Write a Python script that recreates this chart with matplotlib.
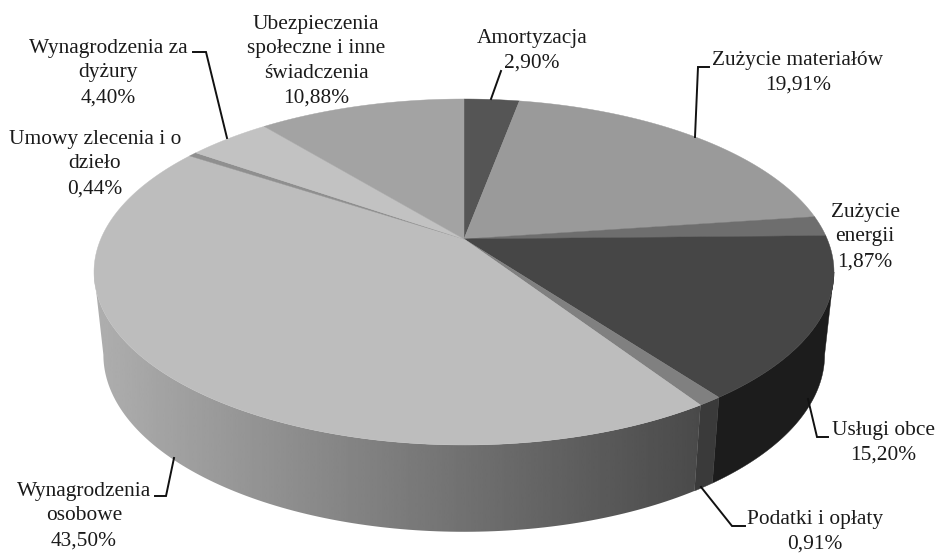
"""3D style pie of cost shares, greyscale, labels in Polish."""
import numpy as np
import matplotlib
matplotlib.use("Agg")
import matplotlib.pyplot as plt
from matplotlib.patches import Polygon

LABELS = ["Amortyzacja", "Zużycie materiałów", "Zużycie\nenergii", "Usługi obce",
          "Podatki i opłaty", "Wynagrodzenia\nosobowe", "Umowy zlecenia i o\ndzieło",
          "Wynagrodzenia za\ndyżury", "Ubezpieczenia\nspołeczne i inne\nświadczenia"]
VALUES = [2.90, 19.91, 1.87, 15.20, 0.91, 43.50, 0.44, 4.40, 10.88]
TOP_GREYS = ["#555555", "#9a9a9a", "#6e6e6e", "#464646", "#808080",
             "#bdbdbd", "#8f8f8f", "#c2c2c2", "#a3a3a3"]
SIDE_GREYS = {3: "#1c1c1c", 4: "#3a3a3a"}

LABEL_POS = [(532, 51), (798, 73), (865, 237), (883, 443), (815, 532),
             (84, 516), (95, 164), (108, 73), (316, 61)]
LEADERS = [
    [(501, 71), (491, 99)],
    [(709, 67), (698, 67), (695, 137)],
    [(828, 437), (817, 437), (808, 399)],
    [(745, 526), (732, 526), (701, 487)],
    [(155, 496), (166, 496), (174, 458)],
    [(193, 52), (206, 52), (227, 138)],
]

PERSP = 0.1907


def project(theta, cx, cy, a, b):
    # circle seen in perspective, theta clockwise from 12 o'clock
    u, v = np.sin(theta), np.cos(theta)
    w = 1 + PERSP * v
    return cx + a * u / w, cy - b * v / w


def top_face(theta):
    return project(theta, 464, 239, 363.2, 166.7)


def bottom_face(theta):
    return project(theta, 464, 321, 354, 170.6)


fig = plt.figure(figsize=(9.36, 5.54), dpi=100)
ax = fig.add_axes([0, 0, 1, 1])

edges = np.radians(np.cumsum([0] + VALUES) / sum(VALUES) * 360)
# where the outline leaves the top ellipse
tangent = np.arccos(-PERSP)

# side wall first, top face hides what is behind
for i in range(len(VALUES)):
    lo, hi = max(edges[i], tangent), min(edges[i + 1], 2 * np.pi - tangent)
    if hi <= lo:
        continue
    th = np.linspace(lo, hi, 120)
    xt, yt = top_face(th)
    xb, yb = bottom_face(th)
    pts = np.column_stack([np.r_[xt, xb[::-1]], np.r_[yt, yb[::-1]]])
    if i in SIDE_GREYS:
        ax.add_patch(Polygon(pts, facecolor=SIDE_GREYS[i], edgecolor=SIDE_GREYS[i],
                             linewidth=0.3, zorder=1))
    else:
        # light on the far left, dark near the small slice
        wall = Polygon(pts, facecolor="none", edgecolor="none", transform=ax.transData)
        ax.add_patch(wall)
        ramp = np.linspace(0.69, 0.29, 256).reshape(1, -1)
        img = ax.imshow(ramp, cmap="gray", vmin=0, vmax=1, aspect="auto",
                        extent=(85, 700, 554, 0), interpolation="bilinear", zorder=1)
        img.set_clip_path(wall)

ax.set_xlim(0, 936)
ax.set_ylim(554, 0)
ax.axis("off")

for i, grey in enumerate(TOP_GREYS):
    th = np.linspace(edges[i], edges[i + 1], max(4, int(VALUES[i] * 8)))
    xs, ys = top_face(th)
    pts = [(464, 239)] + list(zip(xs, ys))
    ax.add_patch(Polygon(pts, facecolor=grey, edgecolor=grey, linewidth=0.3, zorder=2))

for line in LEADERS:
    xs, ys = zip(*line)
    ax.plot(xs, ys, color="#111111", linewidth=1.4, zorder=3, solid_joinstyle="miter")

for name, val, (x, y) in zip(LABELS, VALUES, LABEL_POS):
    txt = f"{name}\n{val:.2f}%".replace(".", ",")
    ax.text(x, y, txt, ha="center", va="center", family="Liberation Serif",
            fontsize=15.4, color="#1a1a1a", linespacing=1.4, zorder=4)

fig.savefig("out.png", dpi=100, facecolor="white")
